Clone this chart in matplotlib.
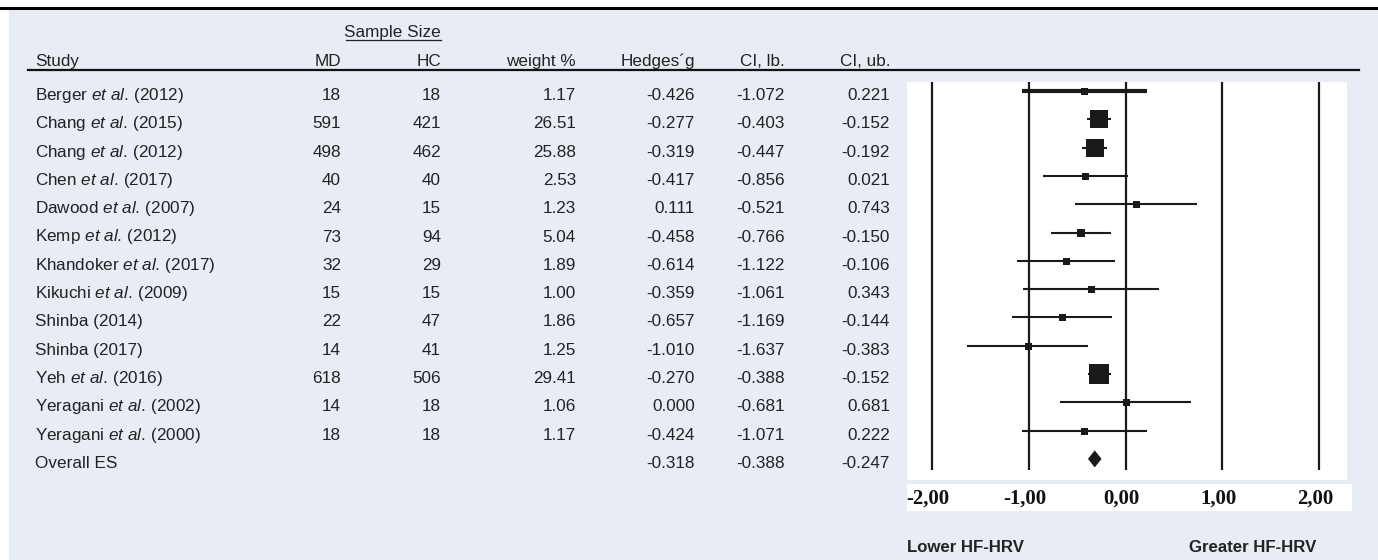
import numpy as np
import matplotlib
matplotlib.use("Agg")
import matplotlib.pyplot as plt
import matplotlib.transforms as mtransforms
from matplotlib.patches import Rectangle, Polygon
from matplotlib.lines import Line2D

plt.rcParams['font.family'] = ['Liberation Sans', 'DejaVu Sans']
plt.rcParams['mathtext.fontset'] = 'custom'
plt.rcParams['mathtext.rm'] = 'Liberation Sans'
plt.rcParams['mathtext.it'] = 'Liberation Sans:italic'

# study data
authors = ["Berger", "Chang", "Chang", "Chen", "Dawood", "Kemp", "Khandoker",
           "Kikuchi", "Shinba", "Shinba", "Yeh", "Yeragani", "Yeragani"]
etal = [True, True, True, True, True, True, True, True, False, False, True, True, True]
years = [2012, 2015, 2012, 2017, 2007, 2012, 2017, 2009, 2014, 2017, 2016, 2002, 2000]
n_md = [18, 591, 498, 40, 24, 73, 32, 15, 22, 14, 618, 14, 18]
n_hc = [18, 421, 462, 40, 15, 94, 29, 15, 47, 41, 506, 18, 18]
weight = [1.17, 26.51, 25.88, 2.53, 1.23, 5.04, 1.89, 1.00, 1.86, 1.25, 29.41, 1.06, 1.17]
hedges = [-0.426, -0.277, -0.319, -0.417, 0.111, -0.458, -0.614, -0.359, -0.657,
          -1.010, -0.270, 0.000, -0.424]
ci_lb = [-1.072, -0.403, -0.447, -0.856, -0.521, -0.766, -1.122, -1.061, -1.169,
         -1.637, -0.388, -0.681, -1.071]
ci_ub = [0.221, -0.152, -0.192, 0.021, 0.743, -0.150, -0.106, 0.343, -0.144,
         -0.383, -0.152, 0.681, 0.222]
overall = (-0.318, -0.388, -0.247)
xticks = [-2, -1, 0, 1, 2]
xticklabels = ["-2,00", "-1,00", "0,00", "1,00", "2,00"]

W, H = 1378, 560
fig = plt.figure(figsize=(W / 100, H / 100), dpi=100)
fig.patch.set_facecolor('white')

def fx(x):
    return x / W

def fy(y):
    return 1 - y / H

BG = '#e8ecf4'
TXT = '#222222'
fs = 12.3

# background panel + top rule
fig.add_artist(Rectangle((fx(9), 0), 1 - fx(9), fy(10), transform=fig.transFigure,
                         facecolor=BG, edgecolor='none', zorder=-5))
fig.add_artist(Line2D([0, 1], [fy(8), fy(8)], transform=fig.transFigure,
                      color='black', lw=2.2))

# row positions (pixels)
row0, dy = 91, 28.3
def row_y(i):
    return row0 + i * dy
base_off = 9  # text baseline below row centre

# headers
fig.text(fx(441), fy(37.3), "Sample Size", ha='right', va='baseline', fontsize=fs, color=TXT)
fig.add_artist(Line2D([fx(346), fx(441)], [fy(40), fy(40)], transform=fig.transFigure,
                      color=TXT, lw=0.9))
hy = fy(66)
fig.text(fx(35), hy, "Study", ha='left', va='baseline', fontsize=fs, color=TXT)
col_x = [341, 441, 576, 695, 785, 890]
headers = ["MD", "HC", "weight %", "Hedges\u00b4g", "CI, lb.", "CI, ub."]
for cx, h in zip(col_x, headers):
    fig.text(fx(cx), hy, h, ha='right', va='baseline', fontsize=fs, color=TXT)
fig.add_artist(Line2D([fx(28), fx(1359)], [fy(70), fy(70)], transform=fig.transFigure,
                      color='#111111', lw=1.6))

# table body
for i in range(len(authors)):
    y = fy(row_y(i) + base_off)
    if etal[i]:
        # italic correction after "al." already adds room, so only a thin space there
        label = (r"$\mathrm{%s}\ \mathit{et\ al.}\,\mathrm{(%d)}$" % (authors[i], years[i]))
    else:
        label = "%s (%d)" % (authors[i], years[i])
    fig.text(fx(35), y, label, ha='left', va='baseline', fontsize=fs, color=TXT)
    vals = [str(n_md[i]), str(n_hc[i]), "%.2f" % weight[i], "%.3f" % hedges[i],
            "%.3f" % ci_lb[i], "%.3f" % ci_ub[i]]
    for cx, v in zip(col_x, vals):
        fig.text(fx(cx), y, v, ha='right', va='baseline', fontsize=fs, color=TXT)
y = fy(row_y(len(authors)) + base_off)
fig.text(fx(35), y, "Overall ES", ha='left', va='baseline', fontsize=fs, color=TXT)
for cx, v in zip(col_x[3:], overall):
    fig.text(fx(cx), y, "%.3f" % v, ha='right', va='baseline', fontsize=fs, color=TXT)

# forest plot
ax_l, ax_r, ax_t, ax_b = 907, 1347, 82, 480
ax = fig.add_axes([fx(ax_l), fy(ax_b), fx(ax_r - ax_l), (ax_b - ax_t) / H])
ax.set_facecolor('white')
ppu = (1319 - 932) / 4.0
ax.set_xlim(-2 - (932 - ax_l) / ppu, 2 + (ax_r - 1319) / ppu)
ax.set_ylim((ax_b - row0) / dy, (ax_t - row0) / dy)
for s in ax.spines.values():
    s.set_visible(False)
ax.set_yticks([])

ax.vlines(xticks, (ax_t - row0) / dy, (470 - row0) / dy, color='#1a1a1a', lw=1.6)

for i in range(len(authors)):
    lw = 3.0 if i == 0 else 1.5
    ax.plot([ci_lb[i], ci_ub[i]], [i, i], color='#1a1a1a', lw=lw, solid_capstyle='butt')
    side = max(7.0, 3.6 * np.sqrt(weight[i]))
    ax.plot(hedges[i], i, marker='s', ms=side * 0.72, color='#1a1a1a', mew=0)

k = len(authors)
es, lb, ub = overall
ax.add_patch(Polygon([[lb, k], [es, k - 0.3], [ub, k], [es, k + 0.3]], closed=True,
                     facecolor='#1a1a1a', edgecolor='none'))

# tick label band (white strip under the plot)
fig.add_artist(Rectangle((fx(907), fy(511)), fx(1352 - 907), (511 - 484) / H,
                         transform=fig.transFigure, facecolor='white', edgecolor='none',
                         zorder=-4))
ax.set_xticks(xticks)
ax.set_xticklabels(xticklabels, fontfamily='Liberation Serif', fontweight='bold',
                   fontsize=15, color='#111111')
ax.tick_params(axis='x', length=0, pad=6)
shift = mtransforms.ScaledTranslation(-0.04, 0, fig.dpi_scale_trans)
for t in ax.get_xticklabels():
    t.set_transform(t.get_transform() + shift)

fig.text(fx(907), fy(547), "Lower HF-HRV", ha='left', va='center', fontsize=12.1,
         fontweight='bold', color=TXT)
fig.text(fx(1189), fy(547), "Greater HF-HRV", ha='left', va='center', fontsize=12.1,
         fontweight='bold', color=TXT)

fig.savefig("out.png", dpi=100, facecolor=fig.get_facecolor())
